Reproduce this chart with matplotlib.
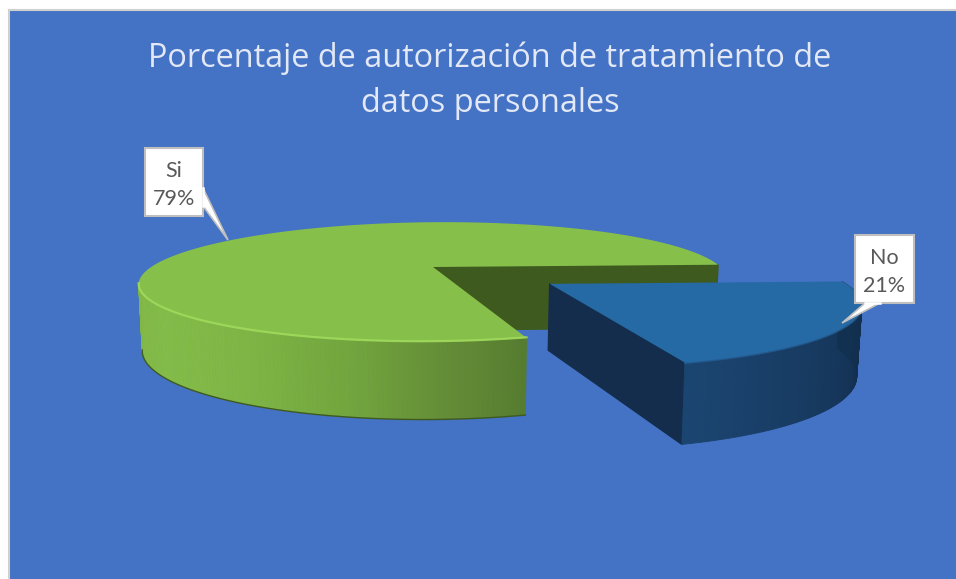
"""
Porcentaje de autorizacion: pie with a 3D look, drawn from the slice values
"""

import matplotlib
matplotlib.use('Agg')
import matplotlib.pyplot as plt
from matplotlib.colors import to_rgb
import numpy as np

labels = ['No', 'Si']
values = [21, 79]
title = 'Porcentaje de autorización de tratamiento de\ndatos personales'

BG = '#4472c4'
CX, CY = 433, 267
RX, RY = 285, 56
PERSP = 0.25
ROLL = 0.008
START = 0.0
GREEN_SIDE = 90.5


def project(u, v):
    # flat pie plane to picture, front of the pie comes out bigger
    s = 1 / (1 + PERSP * v)
    x = CX + RX * u * s
    return x, CY - RY * v * s - ROLL * (x - CX), s


def rim_points(a0, a1, off_u=0.0, off_v=0.0, scale=1.0, n=120):
    t = np.radians(np.linspace(a0, a1, n))
    return project(off_u + scale * np.cos(t), off_v + scale * np.sin(t))


def bottom(x, y, s):
    return CX + (x - CX) * 0.988, y + 20 + 43 * s


def draw_side(ax, x, y, s, stops, colors):
    xb, yb = bottom(x, y, s)
    pos = np.linspace(0, 1, len(x) - 1)
    rgb = np.array([to_rgb(c) for c in colors])
    for i in range(len(x) - 1):
        col = [np.interp(pos[i], stops, rgb[:, j]) for j in range(3)]
        ax.fill([x[i], x[i + 1], xb[i + 1], xb[i]], [y[i], y[i + 1], yb[i + 1], yb[i]],
                color=col, lw=0.6)


def callout(ax, box, base, tip, text):
    x0, y0, x1, y1 = box
    ax.fill([base[0], tip[0], base[2]], [base[1], tip[1], base[3]],
            facecolor='white', edgecolor='#bfbfbf', lw=1.2, zorder=5)
    ax.fill([x0, x1, x1, x0], [y0, y0, y1, y1], facecolor='white', edgecolor='#bfbfbf', lw=1.5, zorder=6)
    ax.plot([base[0], base[2]], [base[1], base[3]], color='white', lw=1.8, zorder=7)
    ax.text((x0 + x1) / 2, (y0 + y1) / 2 + 3, text, ha='center', va='center', color='#595959',
            fontsize=15.5, family='Lato', linespacing=1.55, zorder=8)


fig = plt.figure(figsize=(9.56, 5.79), dpi=100, facecolor='white')
ax = fig.add_axes([0, 0, 1, 1])
ax.set_xlim(0, 956)
ax.set_ylim(579, 0)
ax.axis('off')

ax.fill([9, 970, 970, 9], [10, 10, 590, 590], facecolor=BG, edgecolor='#d0d0d0', lw=1.5)

ax.text(490, 81, title, ha='center', va='center', color='#e2e8f5', fontsize=23.4,
        family='Open Sans', linespacing=1.48)

sweep = np.array(values) / sum(values) * 360
no_end = START - sweep[0] + 360
si_end = no_end - sweep[1]

# green slice: inner wall, then side, then top
vx, vy, vs = project(0, 0)
ex, ey, es = project(np.cos(np.radians(START)), np.sin(np.radians(START)))
bx, by = bottom(np.array([vx, ex]), np.array([vy, ey]), np.array([vs, es]))
ax.fill([vx, ex, ex, bx[1], bx[0]], [vy, ey, ey + 3, by[1], by[0]], color='#3e5a1f')

x, y, s = rim_points(no_end, no_end - GREEN_SIDE)
draw_side(ax, x, y, s, [0, 0.15, 0.3, 0.5, 0.75, 1],
          ['#567c2f', '#668f38', '#72a63e', '#7fb545', '#84bc49', '#80b646'])
xb, yb = bottom(x, y, s)
ax.plot(xb, yb + 0.5, color='#3e5a1f', lw=1.0)

rx, ry, rs = rim_points(no_end, si_end)
ax.fill(np.r_[vx, rx], np.r_[vy, ry], color='#86bf4a', lw=0)
ax.plot(x, y - 0.5, color='#a2dc5c', lw=1.6, alpha=0.85)

# blue slice pulled out along its middle angle
mid = np.radians(START - sweep[0] / 2)
EXPLODE = 0.48
off_u, off_v = EXPLODE * np.cos(mid), EXPLODE * np.sin(mid)
BLUE_R = 0.95

x, y, s = rim_points(START, START - sweep[0], off_u, off_v, BLUE_R)
x0, y0, s0 = project(off_u, off_v)
xb0, yb0 = bottom(x0, y0, s0)
xeb, yeb = bottom(x[-1], y[-1], s[-1])
ax.fill([x0, x[-1], xeb, xb0], [y0, y[-1], yeb, yb0], color='#142d4c')
draw_side(ax, x[::-1], y[::-1], s[::-1], [0, 0.35, 0.7, 1], ['#1b4571', '#173a60', '#132f50', '#12304f'])
ax.fill(np.r_[x0, x], np.r_[y0, y], color='#2569a5', lw=0)
ax.plot(x, y + 0.5, color='#2a6aa5', lw=1.2, alpha=0.6)

callout(ax, (145, 148, 203, 216), (203, 188, 203, 206), (228, 240), f'{labels[1]}\n{values[1]}%')
callout(ax, (855, 235, 914, 303), (865, 303, 880, 303), (842, 323), f'{labels[0]}\n{values[0]}%')

plt.savefig('out.png', dpi=100)
